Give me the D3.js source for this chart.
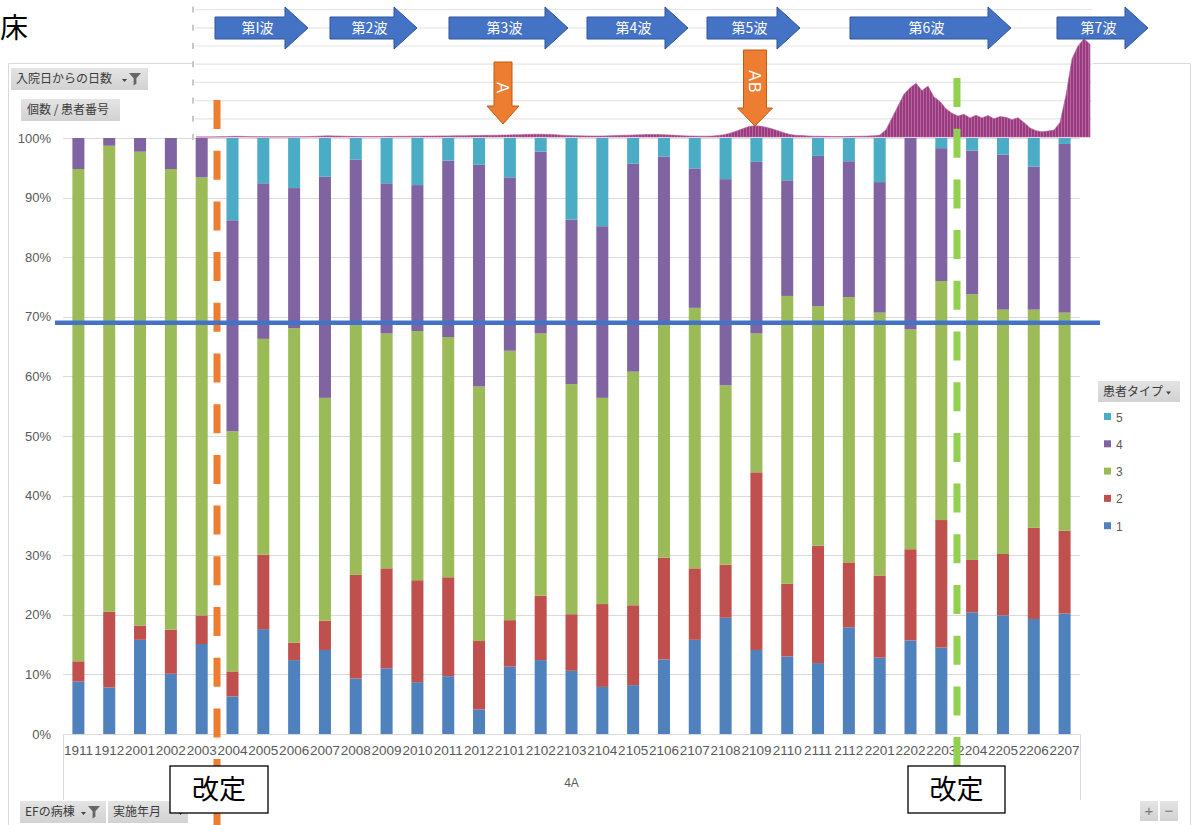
<!DOCTYPE html>
<html>
<head>
<meta charset="utf-8">
<script src="https://cdn.jsdelivr.net/npm/d3@7"></script>
<style>
  body { margin: 0; background: #fff; }
  svg { display: block; }
</style>
</head>
<body>
<svg id="chart" width="1193" height="825"></svg>
<script>
// ---------- data ----------
const months = ["1911","1912","2001","2002","2003","2004","2005","2006","2007","2008","2009","2010","2011","2012",
                "2101","2102","2103","2104","2105","2106","2107","2108","2109","2110","2111","2112",
                "2201","2202","2203","2204","2205","2206","2207"];
// share of each patient type per month (%)
const type1 = [8.8,7.8,15.8,10.1,15.1,6.3,17.6,12.4,14.1,9.3,11.0,8.7,9.7,4.1,11.3,12.4,10.6,7.9,8.2,12.5,15.8,19.5,14.1,13.0,11.9,17.9,12.8,15.7,14.5,20.4,19.9,19.3,20.2];
const type2 = [3.4,12.7,2.4,7.4,4.8,4.2,12.5,2.9,4.9,17.4,16.8,17.1,16.6,11.5,7.8,10.8,9.5,13.9,13.4,17.1,12.0,8.9,29.8,12.2,19.7,10.9,13.8,15.3,21.4,8.8,10.3,15.3,13.9];
const type3 = [82.6,78.2,79.5,77.3,73.5,40.3,36.2,52.8,37.4,42.1,39.4,41.8,40.3,42.7,45.2,44.0,38.6,34.6,39.2,39.2,43.7,30.1,23.3,48.3,40.2,44.5,44.1,36.9,40.1,44.6,41.0,36.6,36.6];
const type4 = [5.2,1.3,2.3,5.2,6.6,35.4,26.1,23.5,37.1,27.6,25.2,24.5,29.6,37.2,29.1,30.5,27.6,28.8,34.9,28.1,23.4,34.6,28.8,19.4,25.2,22.8,21.9,32.1,22.3,24.1,26.0,24.0,28.3];
const type5 = [0,0,0,0,0,13.8,7.6,8.4,6.5,3.6,7.6,7.9,3.8,4.5,6.6,2.3,13.7,14.8,4.3,3.1,5.1,6.9,4.0,7.1,3.0,3.9,7.4,0,1.7,2.1,2.8,4.8,1.0];
const typeKeys = ["1","2","3","4","5"];
const legendOrder = ["5","4","3","2","1"];
const yTickValues = [0,0.1,0.2,0.3,0.4,0.5,0.6,0.7,0.8,0.9,1.0];
const benchmarkShare = 0.69;
const groupLabel = "4A";

// daily new-case curve drawn above the bars (arbitrary units)
const caseCurve = [
  0,0,0,5,10,20,35,40,30,20,
  15,10,8,8,10,10,12,15,20,30,
  40,55,65,60,50,40,35,30,30,30,
  30,30,35,35,40,40,45,45,50,50,55,60,60,65,70,75,
  80,85,90,95,100,105,110,120,130,140,150,155,150,140,120,100,85,
  75,65,60,55,55,60,
  70,80,90,100,115,125,135,140,135,125,110,90,75,
  60,50,45,45,50,
  80,130,210,320,440,560,620,600,540,450,340,230,140,90,
  80,60,45,40,35,30,30,30,35,40,45,55,70,110,
  400,1050,1700,2350,2700,2950,2550,2800,2200,1950,1550,1300,1150,
  1250,1050,1200,1050,1180,1000,1120,1080,950,1060,800,500,350,290,330,380,
  800,2300,4300,5000,5400,5100
];
const caseTicks = [0,1000,2000,3000,4000,5000,6000,7000];

const waveLabels = ["第I波","第2波","第3波","第4波","第5波","第6波","第7波"];
const markerLabels = ["A","AB"];
const revisionLabel = "改定";

// ---------- layout ----------
const FONT_JP = '"Noto Sans CJK JP","Noto Sans",sans-serif';
const FONT_NUM = '"Liberation Sans",Arial,sans-serif';
const colors = { "1": "#4f81bd", "2": "#c0504d", "3": "#9bbb59", "4": "#8064a2", "5": "#4bacc6" };
const plot = { left: 63, right: 1080, top: 138, bottom: 734 };
const overlay = { left: 192, right: 1093, top: 0, bottom: 137.5 };
const waveSpans = [[215,308],[330,417],[449,568],[587,688],[707,800],[850,1011],[1057,1148]];
const markerGeom = [
  { cx: 503, bodyW: 18, headW: 32, top: 62, headTop: 106, tip: 124, textY: 88 },
  { cx: 755, bodyW: 23, headW: 35, top: 50, headTop: 108, tip: 126, textY: 82 }
];

const svg = d3.select("#chart");
const defs = svg.append("defs");
const grad = defs.append("linearGradient").attr("id", "btn").attr("x1", 0).attr("y1", 0).attr("x2", 0).attr("y2", 1);
grad.append("stop").attr("offset", "0%").attr("stop-color", "#e4e4e4");
grad.append("stop").attr("offset", "100%").attr("stop-color", "#d2d2d2");
// daily-bar striping for the case curve
const stripes = defs.append("pattern").attr("id", "dailyBars")
  .attr("patternUnits", "userSpaceOnUse").attr("width", 3).attr("height", 10);
stripes.append("rect").attr("width", 3).attr("height", 10).attr("fill", "#9c3a80");
stripes.append("rect").attr("x", 2.2).attr("width", 0.8).attr("height", 10).attr("fill", "#bb74a8");

// chart frame
svg.append("path")
  .attr("d", "M8.5,825 V63.5 H1190.5 V825")
  .attr("fill", "none").attr("stroke", "#d9d9d9");

// ---------- stacked 100% bars ----------
const rows = months.map((m, i) => ({ month: m, "1": type1[i], "2": type2[i], "3": type3[i], "4": type4[i], "5": type5[i] }));
const stack = d3.stack().keys(typeKeys).offset(d3.stackOffsetExpand);
const series = stack(rows);

const x = d3.scaleBand().domain(months).range([plot.left, plot.right]).paddingInner(0.61).paddingOuter(0.305);
const y = d3.scaleLinear().domain([0, 1]).range([plot.bottom, plot.top]);

// gridlines
svg.append("g").selectAll("line").data(yTickValues.slice(1)).join("line")
  .attr("x1", plot.left).attr("x2", plot.right)
  .attr("y1", d => Math.round(y(d)) + 0.5).attr("y2", d => Math.round(y(d)) + 0.5)
  .attr("stroke", "#d9d9d9").attr("stroke-width", 1);

// y axis labels
const yAxis = d3.axisLeft(y).tickValues(yTickValues).tickFormat(d3.format(".0%")).tickSize(0).tickPadding(0);
const yg = svg.append("g").attr("transform", "translate(51,0)").call(yAxis);
yg.select(".domain").remove();
yg.selectAll("text").attr("font-family", FONT_NUM).attr("font-size", 13).attr("fill", "#595959");

// bars
svg.append("g").selectAll("g").data(series).join("g")
  .attr("fill", s => colors[s.key])
  .selectAll("rect").data(s => s).join("rect")
  .attr("x", d => x(d.data.month))
  .attr("width", x.bandwidth())
  .attr("y", d => y(d[1]))
  .attr("height", d => Math.max(0, y(d[0]) - y(d[1])));

// x axis
const xAxis = d3.axisBottom(x).tickSize(0).tickPadding(11);
const xg = svg.append("g").attr("transform", `translate(0,${plot.bottom})`).call(xAxis);
xg.select(".domain").remove();
xg.selectAll("text").attr("font-family", FONT_NUM).attr("font-size", 13.5).attr("fill", "#595959");
svg.append("path")
  .attr("d", `M${plot.left + 0.5},800 V${plot.bottom + 0.5} H${plot.right + 0.5} V800`)
  .attr("fill", "none").attr("stroke", "#d9d9d9");
svg.append("text").attr("x", (plot.left + plot.right) / 2).attr("y", 787)
  .attr("text-anchor", "middle").attr("font-family", FONT_NUM).attr("font-size", 12)
  .attr("fill", "#595959").text(groupLabel);

// ---------- field buttons & legend ----------
function funnel(g, fx, fy) {
  g.append("path")
    .attr("d", `M${fx},${fy} h12 l-4.6,5.2 v5.6 l-2.8,1.6 v-7.2 z`)
    .attr("fill", "#666");
}
function dropMark(g, dx, dy) {
  g.append("path").attr("d", `M${dx},${dy} h5 l-2.5,3 z`).attr("fill", "#444");
}
function button(bx, by, bw, bh, label, opts = {}) {
  const g = svg.append("g");
  g.append("rect").attr("x", bx).attr("y", by).attr("width", bw).attr("height", bh).attr("fill", "url(#btn)");
  g.append("text").attr("x", bx + (opts.pad || 5)).attr("y", by + bh / 2 + 4.3)
    .attr("font-family", FONT_JP).attr("font-size", 12).attr("fill", "#3a3a3a").text(label);
  if (opts.drop) dropMark(g, opts.drop, by + bh / 2);
  if (opts.filter) funnel(g, opts.filter, by + bh / 2 - 6);
  return g;
}
button(11, 68, 137, 22, "入院日からの日数", { drop: 122, filter: 129 });
button(21, 99, 99, 22, "個数 / 患者番号", { pad: 6 });
button(20, 801, 86, 22, "EFの病棟", { drop: 81, filter: 88 });
button(108, 801, 80, 22, "実施年月", { drop: 178 });

button(1098, 381, 82, 21, "患者タイプ", { drop: 1166 });
const leg = svg.append("g").selectAll("g").data(legendOrder).join("g")
  .attr("transform", (d, i) => `translate(1104,${417 + i * 27.3})`);
leg.append("rect").attr("x", 0).attr("y", -4).attr("width", 7).attr("height", 7).attr("fill", d => colors[d]);
leg.append("text").attr("x", 12).attr("y", 4.5).attr("font-family", FONT_NUM).attr("font-size", 12)
  .attr("fill", "#595959").text(d => d);

// zoom buttons
[["+", 1140], ["−", 1160]].forEach(([t, bx]) => {
  svg.append("rect").attr("x", bx).attr("y", 801).attr("width", 18).attr("height", 20).attr("fill", "url(#btn)");
  svg.append("text").attr("x", bx + 9).attr("y", 816).attr("text-anchor", "middle")
    .attr("font-family", FONT_NUM).attr("font-size", 15).attr("fill", "#777").text(t);
});

// ---------- case curve above the bars ----------
svg.append("rect").attr("x", overlay.left).attr("y", overlay.top)
  .attr("width", overlay.right - overlay.left).attr("height", overlay.bottom - overlay.top).attr("fill", "#fff");
const cx = d3.scaleLinear().domain([0, caseCurve.length - 1]).range([196, 1090]);
const cy = d3.scaleLinear().domain([0, 7000]).range([137, 9.6]);
svg.append("g").selectAll("line").data(caseTicks.slice(1)).join("line")
  .attr("x1", 195).attr("x2", 1092)
  .attr("y1", d => cy(d)).attr("y2", d => cy(d))
  .attr("stroke", "#e6e6e6").attr("stroke-width", 1.2);
svg.append("g").selectAll("line").data(caseTicks).join("line")
  .attr("x1", 193).attr("x2", 193)
  .attr("y1", d => cy(d) - 3).attr("y2", d => cy(d) + 3)
  .attr("stroke", "#c8c8c8").attr("stroke-width", 2);
const area = d3.area().x((d, i) => cx(i)).y0(cy(0)).y1(d => cy(d));
svg.append("path").datum(caseCurve).attr("d", area)
  .attr("fill", "url(#dailyBars)").attr("stroke", "#b2609b").attr("stroke-width", 0.6);

// wave arrows
const waves = svg.append("g").selectAll("g").data(waveLabels).join("g");
waves.append("path")
  .attr("d", (d, i) => {
    const [x0, tip] = waveSpans[i];
    const hb = tip - 23;
    return `M${x0},17 H${hb} V7 L${tip},28 L${hb},49 V39 H${x0} Z`;
  })
  .attr("fill", "#4472c4").attr("stroke", "#2f5597").attr("stroke-width", 1);
waves.append("text")
  .attr("x", (d, i) => (waveSpans[i][0] + waveSpans[i][1]) / 2 - 4)
  .attr("y", 33)
  .attr("text-anchor", "middle").attr("font-family", FONT_JP).attr("font-size", 14)
  .attr("fill", "#fff").text(d => d);

// ---------- revision lines ----------
function dashedLine(lx, y0, y1, color) {
  svg.append("line").attr("x1", lx).attr("x2", lx).attr("y1", y0).attr("y2", y1)
    .attr("stroke", color).attr("stroke-width", 7).attr("stroke-dasharray", "29 21.7");
}
dashedLine(217, 100, 825, "#ed7d31");
dashedLine(957, 78, 790, "#92d050");

// marker arrows (A / AB)
const marks = svg.append("g").selectAll("g").data(markerLabels).join("g");
marks.append("path")
  .attr("d", (d, i) => {
    const m = markerGeom[i];
    const b = m.bodyW / 2, h = m.headW / 2;
    return `M${m.cx - b},${m.top} H${m.cx + b} V${m.headTop} H${m.cx + h} L${m.cx},${m.tip} L${m.cx - h},${m.headTop} H${m.cx - b} Z`;
  })
  .attr("fill", "#ed7d31").attr("stroke", "#c55a11").attr("stroke-width", 1);
marks.append("text")
  .attr("transform", (d, i) => `translate(${markerGeom[i].cx},${markerGeom[i].textY}) rotate(90)`)
  .attr("text-anchor", "middle").attr("dy", "0.35em")
  .attr("font-family", FONT_NUM).attr("font-size", 16).attr("letter-spacing", 1)
  .attr("fill", "#fff").text(d => d);

// benchmark line
svg.append("line").attr("x1", 55).attr("x2", 1100)
  .attr("y1", y(benchmarkShare)).attr("y2", y(benchmarkShare))
  .attr("stroke", "#4472c4").attr("stroke-width", 4.5);

// revision labels
[[170, 268], [908, 1005]].forEach(([bx0, bx1]) => {
  svg.append("rect").attr("x", bx0).attr("y", 766).attr("width", bx1 - bx0).attr("height", 47)
    .attr("fill", "#fff").attr("stroke", "#000").attr("stroke-width", 1.3);
  svg.append("text").attr("x", (bx0 + bx1) / 2).attr("y", 799).attr("text-anchor", "middle")
    .attr("font-family", FONT_JP).attr("font-size", 27).attr("fill", "#000").text(revisionLabel);
});

// page title
svg.append("text").attr("x", 0).attr("y", 38).attr("font-family", FONT_JP)
  .attr("font-size", 28).attr("fill", "#000").text("床");
</script>
</body>
</html>
